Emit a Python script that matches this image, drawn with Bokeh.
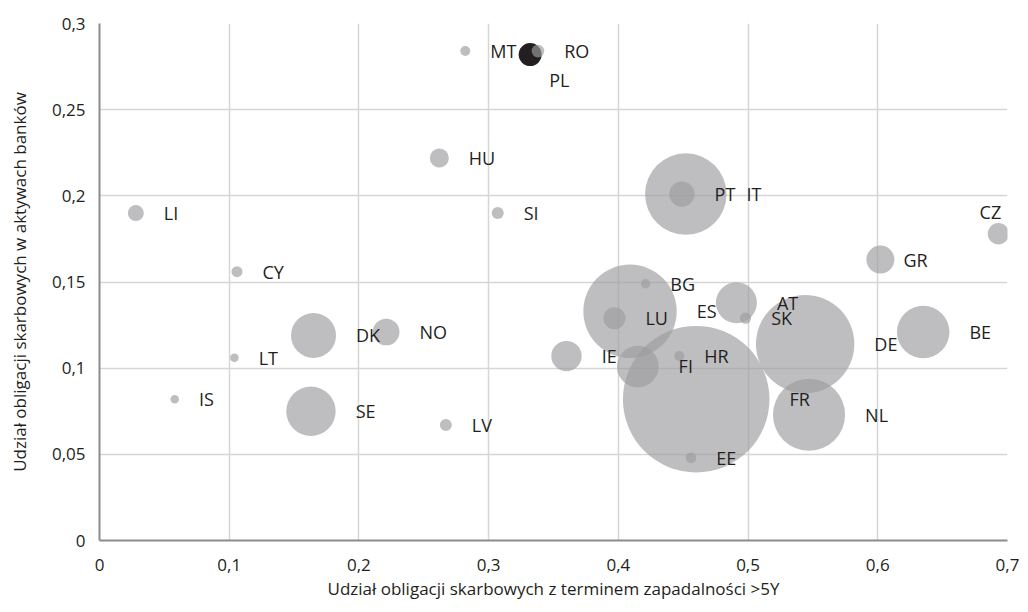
import math
from bokeh.plotting import figure
from bokeh.models import ColumnDataSource, FixedTicker
from bokeh.core.properties import value
from bokeh.embed import file_html
from bokeh.resources import INLINE

# ---- data ----
countries = ["LI", "CY", "MT", "HU", "SI", "PL", "RO", "IT", "PT", "CZ",
             "GR", "ES", "BG", "LU", "AT", "SK", "DE", "BE", "IE", "FR",
             "FI", "HR", "NL", "EE", "DK", "NO", "LT", "IS", "SE", "LV"]
share_long = [0.028, 0.106, 0.282, 0.262, 0.307, 0.332, 0.338, 0.452, 0.449, 0.693,
              0.602, 0.409, 0.421, 0.397, 0.491, 0.498, 0.544, 0.635, 0.360, 0.460,
              0.415, 0.447, 0.547, 0.456, 0.165, 0.221, 0.104, 0.058, 0.163, 0.267]
share_assets = [0.190, 0.156, 0.284, 0.222, 0.190, 0.282, 0.284, 0.201, 0.201, 0.178,
                0.163, 0.133, 0.149, 0.129, 0.138, 0.129, 0.114, 0.121, 0.107, 0.082,
                0.101, 0.107, 0.073, 0.048, 0.119, 0.121, 0.106, 0.082, 0.075, 0.067]
bubble_value = [0.64, 0.30, 0.25, 0.90, 0.36, 1.32, 0.40, 16.6, 1.61, 1.14,
                1.96, 21.8, 0.22, 1.21, 4.2, 0.32, 24.2, 6.9, 2.31, 53.7,
                4.33, 0.25, 13.0, 0.28, 5.06, 1.77, 0.18, 0.18, 6.1, 0.36]

x_ticks = [0, 0.1, 0.2, 0.3, 0.4, 0.5, 0.6, 0.7]
x_tick_labels = ["0", "0,1", "0,2", "0,3", "0,4", "0,5", "0,6", "0,7"]
y_ticks = [0, 0.05, 0.1, 0.15, 0.2, 0.25, 0.3]
y_tick_labels = ["0", "0,05", "0,1", "0,15", "0,2", "0,25", "0,3"]

x_title = "Udział obligacji skarbowych z terminem zapadalności >5Y"
y_title = "Udział obligacji skarbowych w aktywach banków"

# ---- styling ----
FONT = "Open Sans"
TXT = "#231f20"
GRAY = "#9c9d9f"
HIGHLIGHT = "PL"

sizes = [20 * math.sqrt(v) for v in bubble_value]
colors = ["#231f20" if c == HIGHLIGHT else GRAY for c in countries]
alphas = [1.0 if c == HIGHLIGHT else 0.66 for c in countries]

# label placement: to the right of each bubble, with a few manual nudges
nudges = {"PL": (19, 25, "left"), "CZ": (-8, -22, "center")}
dx, dy, al = [], [], []
for c, s in zip(countries, sizes):
    if c in nudges:
        a, b, t = nudges[c]
    elif c == "GR":
        a, b, t = s / 2 + 9, 0, "left"
    else:
        a, b, t = s / 2 + 20, 0, "left"
    dx.append(a); dy.append(b); al.append(t)

src = ColumnDataSource(dict(x=share_long, y=share_assets, size=sizes, color=colors,
                            alpha=alphas, label=countries, dx=dx, dy=dy, al=al))

p = figure(width=1028, height=612, x_range=(0, 0.7), y_range=(0, 0.3),
           output_backend="svg", toolbar_location=None,
           min_border_left=99, min_border_right=21, min_border_top=23, min_border_bottom=72)
p.outline_line_color = None
p.background_fill_color = "white"
p.border_fill_color = "white"

p.scatter("x", "y", size="size", source=src, fill_color="color", fill_alpha="alpha",
          line_color=None)
p.text("x", "y", text="label", source=src, x_offset="dx", y_offset="dy",
       text_align="al", text_baseline="middle", text_font=value(FONT),
       text_font_size="18px", text_color=TXT)

for ax in (p.xaxis[0], p.yaxis[0]):
    ax.axis_line_color = "#8c8c8c"
    ax.axis_line_width = 2
    ax.major_tick_line_color = None
    ax.minor_tick_line_color = None
    ax.major_label_text_font = FONT
    ax.major_label_text_font_size = "17px"
    ax.major_label_text_color = TXT
    ax.axis_label_text_font = FONT
    ax.axis_label_text_font_size = "17px"
    ax.axis_label_text_font_style = "normal"
    ax.axis_label_text_color = TXT

p.xaxis.ticker = FixedTicker(ticks=x_ticks)
p.yaxis.ticker = FixedTicker(ticks=y_ticks)
p.xaxis.major_label_overrides = dict(zip(x_ticks, x_tick_labels))
p.yaxis.major_label_overrides = dict(zip(y_ticks, y_tick_labels))
p.xaxis.axis_label = x_title
p.yaxis.axis_label = y_title
p.xaxis.major_label_standoff = 12
p.xaxis.axis_label_standoff = 3
p.yaxis.major_label_standoff = 8
p.yaxis.axis_label_standoff = 18

p.xgrid.ticker = FixedTicker(ticks=x_ticks)
p.ygrid.ticker = FixedTicker(ticks=y_ticks)
for g in (p.xgrid[0], p.ygrid[0]):
    g.grid_line_color = "#d6d6d6"
    g.grid_line_width = 1.5

open("out.html", "w").write(file_html(p, INLINE))
